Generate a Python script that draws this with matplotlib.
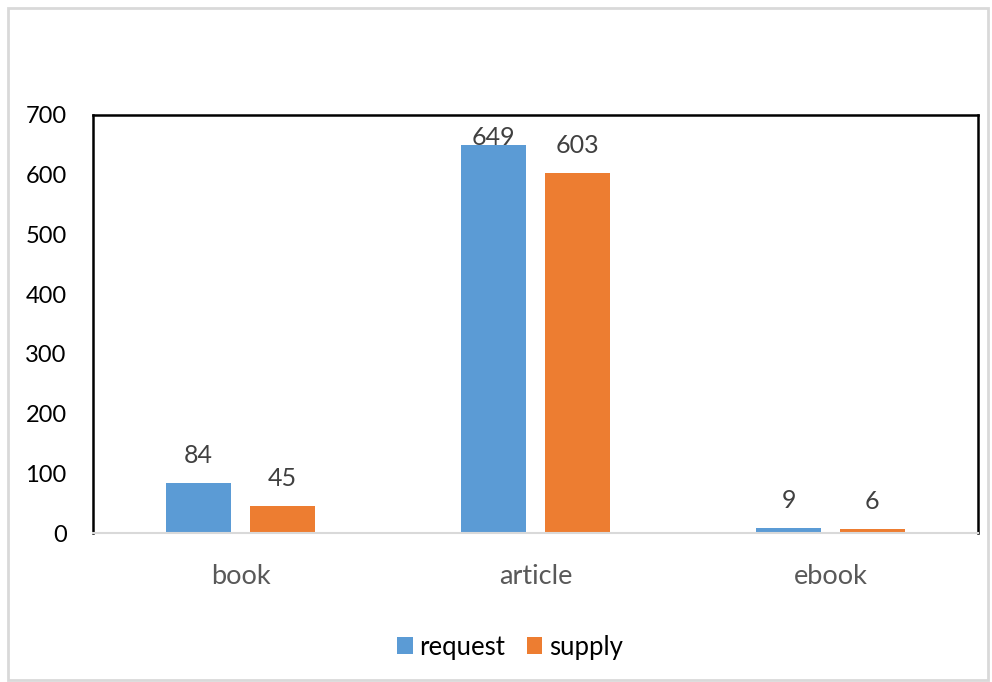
import matplotlib
matplotlib.use("Agg")
import matplotlib.pyplot as plt
import numpy as np
from matplotlib.patches import Rectangle

categories = ["book", "article", "ebook"]
request = [84, 649, 9]
supply = [45, 603, 6]
series_names = ["request", "supply"]
yticks = [0, 100, 200, 300, 400, 500, 600, 700]

plt.rcParams['font.family'] = ['Lato', 'DejaVu Sans']

fig = plt.figure(figsize=(9.92, 6.82), dpi=100)
fig.patches.append(Rectangle((8/992, 1-680/682), (988-8)/992, (680-8)/682,
                             transform=fig.transFigure, fill=False,
                             edgecolor='#D9D9D9', linewidth=2))
ax = fig.add_axes([93/992, 1-533/682, (978-93)/992, (533-115)/682])

x = np.arange(len(categories))
w = 0.22
off = 0.142
blue = '#5B9BD5'
orange = '#ED7D31'
b1 = ax.bar(x - off, request, w, color=blue, label=series_names[0])
b2 = ax.bar(x + off, supply, w, color=orange, label=series_names[1])
label_gap = 46      # data units between bar top and label centre
label_cap = 663     # labels kept inside the plot area
for bars, vals in ((b1, request), (b2, supply)):
    for r, v in zip(bars, vals):
        ax.text(r.get_x() + r.get_width()/2, min(v + label_gap, label_cap), str(v),
                ha='center', va='center', fontsize=18, color='#404040')

ax.set_xlim(-0.5, 2.5)
ax.set_ylim(0, 700)
ax.set_yticks(yticks)
ax.set_yticklabels([str(t) for t in yticks], fontsize=17, color='black')
ax.set_xticks(x)
ax.set_xticklabels(categories, fontsize=19.5, color='#595959')
ax.tick_params(axis='both', length=0)
ax.tick_params(axis='y', pad=19)
ax.tick_params(axis='x', pad=22)
for s in ('left', 'top', 'right'):
    ax.spines[s].set_color('black')
    ax.spines[s].set_linewidth(1.8)
ax.spines['bottom'].set_color('#D9D9D9')
ax.spines['bottom'].set_linewidth(1.5)

fig.legend(handles=[b1, b2], labels=series_names, loc='center',
           bbox_to_anchor=(510/992, 1-647/682), ncol=2, frameon=False,
           fontsize=18.5, handlelength=0.6, handleheight=0.6,
           handletextpad=0.25, columnspacing=0.85)

fig.savefig("out.png", dpi=100)
